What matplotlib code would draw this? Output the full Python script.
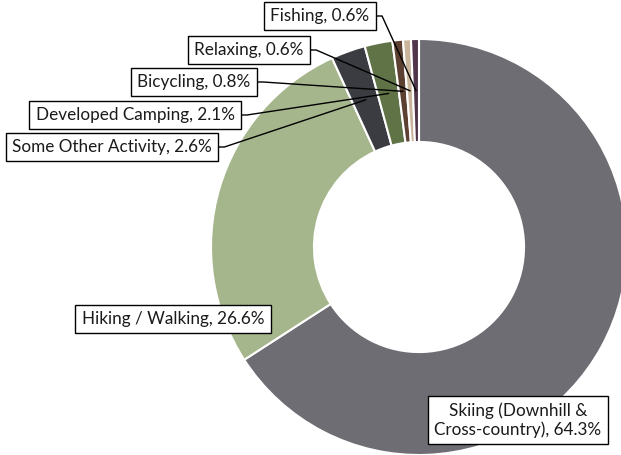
import matplotlib.pyplot as plt
import numpy as np

plt.rcParams['font.family'] = ['Lato', 'DejaVu Sans']

# data
activities = ['Skiing (Downhill &\nCross-country)', 'Hiking / Walking', 'Some Other Activity',
              'Developed Camping', 'Bicycling', 'Relaxing', 'Fishing']
shares = [64.3, 26.6, 2.6, 2.1, 0.8, 0.6, 0.6]
colors = ['#6e6d73', '#a6b68c', '#3b3c41', '#5f7346', '#5c4031', '#c8b59c', '#51354a']

# label box centres, pixel coords from top-left
label_pos = [(518, 420), (173, 319), (112, 147), (135, 115), (194, 82), (249, 50), (320, 16)]
leader = [False, False, True, True, True, True, True]

W, H = 621, 455
fig = plt.figure(figsize=(W / 100, H / 100), dpi=100)
ax = fig.add_axes([0, 0, 1, 1])

cx, cy = 419, H - 247
R = 208
wedges, _ = ax.pie(shares, colors=colors, startangle=90, counterclock=False,
                   center=(cx, cy), radius=R,
                   wedgeprops=dict(width=R * 0.495, edgecolor='white', linewidth=1.5))
ax.set_xlim(0, W)
ax.set_ylim(0, H)
ax.set_aspect('equal')
ax.axis('off')

texts = []
for name, val, (px, py) in zip(activities, shares, label_pos):
    t = ax.text(px, H - py, f'{name}, {val}%', ha='center', va='center', fontsize=12.3,
                color='#1a1a1a', linespacing=1.2, zorder=5,
                bbox=dict(boxstyle='square,pad=0.38', fc='white', ec='black', lw=1))
    texts.append(t)

fig.canvas.draw()
inv = ax.transData.inverted()
rmid = R - R * 0.495 / 2
for w, t, has_line in zip(wedges, texts, leader):
    if not has_line:
        continue
    ang = np.deg2rad((w.theta1 + w.theta2) / 2)
    tx, ty = cx + rmid * np.cos(ang), cy + rmid * np.sin(ang)
    bb = t.get_bbox_patch().get_window_extent()
    x0, y0 = inv.transform((bb.x1, (bb.y0 + bb.y1) / 2))
    ax.plot([x0, x0 + 6, tx], [y0, y0, ty], color='black', lw=1, zorder=4)

fig.savefig('out.png', dpi=100)
